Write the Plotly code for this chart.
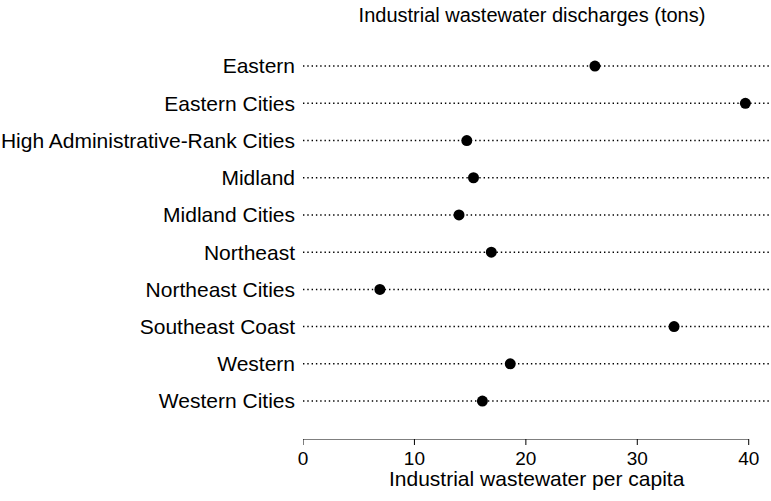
import plotly.graph_objects as go

categories = ["Eastern", "Eastern Cities", "High Administrative-Rank Cities", "Midland",
              "Midland Cities", "Northeast", "Northeast Cities", "Southeast Coast",
              "Western", "Western Cities"]
values = [26.2, 39.7, 14.7, 15.3, 14.0, 16.9, 6.9, 33.3, 18.6, 16.1]
x_ticks = [0, 10, 20, 30, 40]
line_span = [0, 42]

FONT = "Liberation Sans, Arial, Helvetica, sans-serif"
FS = 21
H = 501
TOP, BOT = 30, 56
AXIS_Y = 439
split = (H - BOT - AXIS_Y) / (H - TOP - BOT)
plot_h = H - TOP - BOT

fig = go.Figure()
for c in categories:
    fig.add_trace(go.Scatter(
        x=line_span, y=[c, c], mode="lines",
        line=dict(color="black", width=1.5, dash="1.4px,2.9px"),
        hoverinfo="skip", showlegend=False))
fig.add_trace(go.Scatter(
    x=values, y=categories, mode="markers",
    marker=dict(color="black", size=11), showlegend=False))

# axis line from 0 to 40 with ticks, like R axis
fig.add_trace(go.Scatter(
    x=[x_ticks[0], x_ticks[-1]], y=[0, 0], mode="lines", xaxis="x2", yaxis="y2",
    line=dict(color="black", width=1), hoverinfo="skip", showlegend=False))
for t in x_ticks:
    fig.add_trace(go.Scatter(
        x=[t, t], y=[0, -1], mode="lines", xaxis="x2", yaxis="y2",
        line=dict(color="black", width=1), hoverinfo="skip", showlegend=False))

fig.update_layout(
    width=771, height=H,
    margin=dict(l=303, r=0, t=TOP, b=BOT),
    paper_bgcolor="white", plot_bgcolor="white",
    font=dict(family=FONT, size=FS, color="black"),
    title=dict(text="Industrial wastewater discharges (tons)", x=532/771, xanchor="center",
               y=1 - 15/H, yanchor="middle", font=dict(size=FS - 1)),
    xaxis=dict(range=[0, 42], showgrid=False, zeroline=False, showline=False,
               showticklabels=False, ticks=""),
    yaxis=dict(domain=[split, 1], categoryorder="array", categoryarray=categories,
               range=[10.02, -0.97], showgrid=False, zeroline=False, showline=False,
               ticks="", ticklabelstandoff=7, tickfont=dict(size=FS)),
    xaxis2=dict(range=[0, 42], anchor="y2", showgrid=False, zeroline=False,
                showline=False, tickvals=x_ticks, ticks="", tickfont=dict(size=19)),
    yaxis2=dict(domain=[0, split], range=[-1, 0], visible=False, anchor="x2"),
    annotations=[dict(text="Industrial wastewater per capita", xref="paper", yref="paper",
                      x=0.5, y=-(478 - (H - BOT)) / plot_h, xanchor="center", yanchor="middle",
                      showarrow=False, font=dict(size=FS))],
)
fig.write_html("out.html", config={"displayModeBar": False},
               post_script="document.body.style.margin='0';document.body.style.padding='0';")
